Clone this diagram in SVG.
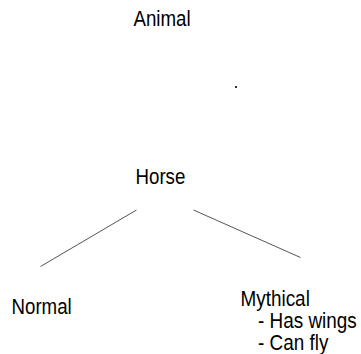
<svg xmlns="http://www.w3.org/2000/svg" width="361" height="354" viewBox="0 0 361 354">
<style>
text{font-family:"Liberation Sans",Arial,sans-serif;font-size:22px;fill:#000}
.edge{stroke:#555;stroke-width:1;fill:none}
</style>
<rect width="361" height="354" fill="#fff"/>
<g id="animal"><text transform="translate(133.5,26) scale(0.85,1)">Animal</text></g>
<g id="dot"><rect x="235" y="86" width="2" height="2" fill="#333"/></g>
<g id="horse"><text transform="translate(135.5,184) scale(0.85,1)">Horse</text></g>
<g id="connectors">
<line class="edge" x1="136.5" y1="210" x2="40.5" y2="266.5"/>
<line class="edge" x1="193.5" y1="210" x2="300.5" y2="257.5"/>
</g>
<g id="normal"><text transform="translate(11.5,314) scale(0.85,1)">Normal</text></g>
<g id="mythical"><text transform="translate(240.5,306) scale(0.86,1)">Mythical</text><text transform="translate(258,328) scale(0.86,1)">- Has wings</text><text transform="translate(258,350) scale(0.86,1)">- Can fly</text></g>
</svg>
